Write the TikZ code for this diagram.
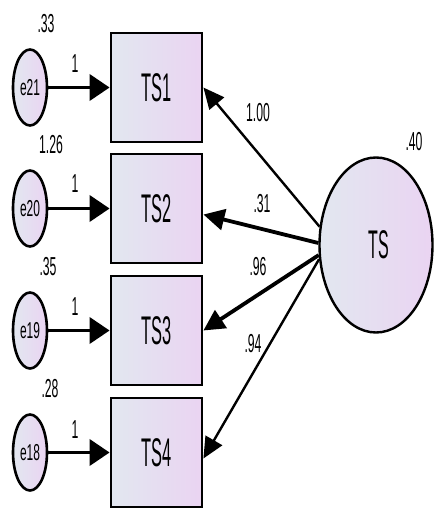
\documentclass[tikz,border=0pt]{standalone}
\usepackage{fontspec}
\setmainfont{Liberation Sans}
\usetikzlibrary{arrows.meta,shapes.geometric}
% horizontally condensed text
\newcommand{\sqz}[2]{\scalebox{#1}[1]{#2}}
\tikzset{
  grad/.style={left color=gradL, right color=gradR},
  obsbox/.style={draw, grad, rectangle, line width=2.8pt, inner sep=0pt,
    minimum width=91pt, minimum height=109pt,
    font=\fontsize{40}{40}\selectfont},
  errnode/.style={draw, grad, ellipse, line width=2.6pt, inner sep=0pt,
    minimum width=34pt, minimum height=76pt,
    font=\fontsize{23}{23}\selectfont},
  latnode/.style={draw, grad, ellipse, line width=2.4pt, inner sep=0pt,
    minimum width=113pt, minimum height=175pt,
    font=\fontsize{40}{40}\selectfont},
  est/.style={inner sep=0pt, font=\fontsize{26}{26}\selectfont},
  errpath/.style={line width=3.8pt, -{Triangle[length=20pt,width=26pt]}},
  loadthin/.style={line width=2.4pt, -{Triangle[length=21pt,width=19pt]}},
  loadthick/.style={line width=3.8pt, -{Triangle[length=21pt,width=21pt]}},
}
\definecolor{gradL}{RGB}{226,231,240}
\definecolor{gradR}{RGB}{234,212,242}
\begin{document}
\begin{tikzpicture}[x=1pt, y=-1pt]
  \useasboundingbox (0,0) rectangle (437,509);

  % observed indicators
  \node[obsbox] (TS1) at (156.5,87.5)  {\sqz{0.41}{TS1}};
  \node[obsbox] (TS2) at (156.5,208.5) {\sqz{0.41}{TS2}};
  \node[obsbox] (TS3) at (156.5,330.5) {\sqz{0.41}{TS3}};
  \node[obsbox] (TS4) at (156.5,452.5) {\sqz{0.41}{TS4}};

  % error terms
  \node[errnode] (e21) at (30,87.5)  {\sqz{0.52}{e21}};
  \node[errnode] (e20) at (30,208.5) {\sqz{0.52}{e20}};
  \node[errnode] (e19) at (30,330.5) {\sqz{0.52}{e19}};
  \node[errnode] (e18) at (30,452.5) {\sqz{0.52}{e18}};

  % latent factor
  \node[latnode] (TS) at (376,245) {\hspace{6pt}\sqz{0.4}{TS}};

  % error paths
  \draw[errpath] (e21) -- (TS1);
  \draw[errpath] (e20) -- (TS2);
  \draw[errpath] (e19) -- (TS3);
  \draw[errpath] (e18) -- (TS4);

  % factor loadings
  \draw[loadthin]  (TS.162) -- (TS1.east);
  \draw[loadthick] (TS.178) -- ([yshift=-6pt]TS2.east);
  \draw[loadthick] (TS.190) -- (TS3.east);
  \draw[loadthin]  (TS.194) -- ([yshift=-6pt]TS4.east);

  % fixed path labels
  \node[est] (p21) at (75,64)  {\sqz{0.47}{1}};
  \node[est] (p20) at (75,184) {\sqz{0.47}{1}};
  \node[est] (p19) at (75,307) {\sqz{0.47}{1}};
  \node[est] (p18) at (75,430) {\sqz{0.47}{1}};

  % variances
  \node[est] (v21) at (46,24)  {\sqz{0.47}{.33}};
  \node[est] (v20) at (51,145) {\sqz{0.47}{1.26}};
  \node[est] (v19) at (48,267) {\sqz{0.47}{.35}};
  \node[est] (v18) at (50,389) {\sqz{0.47}{.28}};
  \node[est] (vTS) at (414,142) {\sqz{0.47}{.40}};

  % loading estimates
  \node[est] (l1) at (258,113) {\sqz{0.47}{1.00}};
  \node[est] (l2) at (262,204) {\sqz{0.47}{.31}};
  \node[est] (l3) at (258,267) {\sqz{0.47}{.96}};
  \node[est] (l4) at (253,344) {\sqz{0.47}{.94}};
\end{tikzpicture}
\end{document}
